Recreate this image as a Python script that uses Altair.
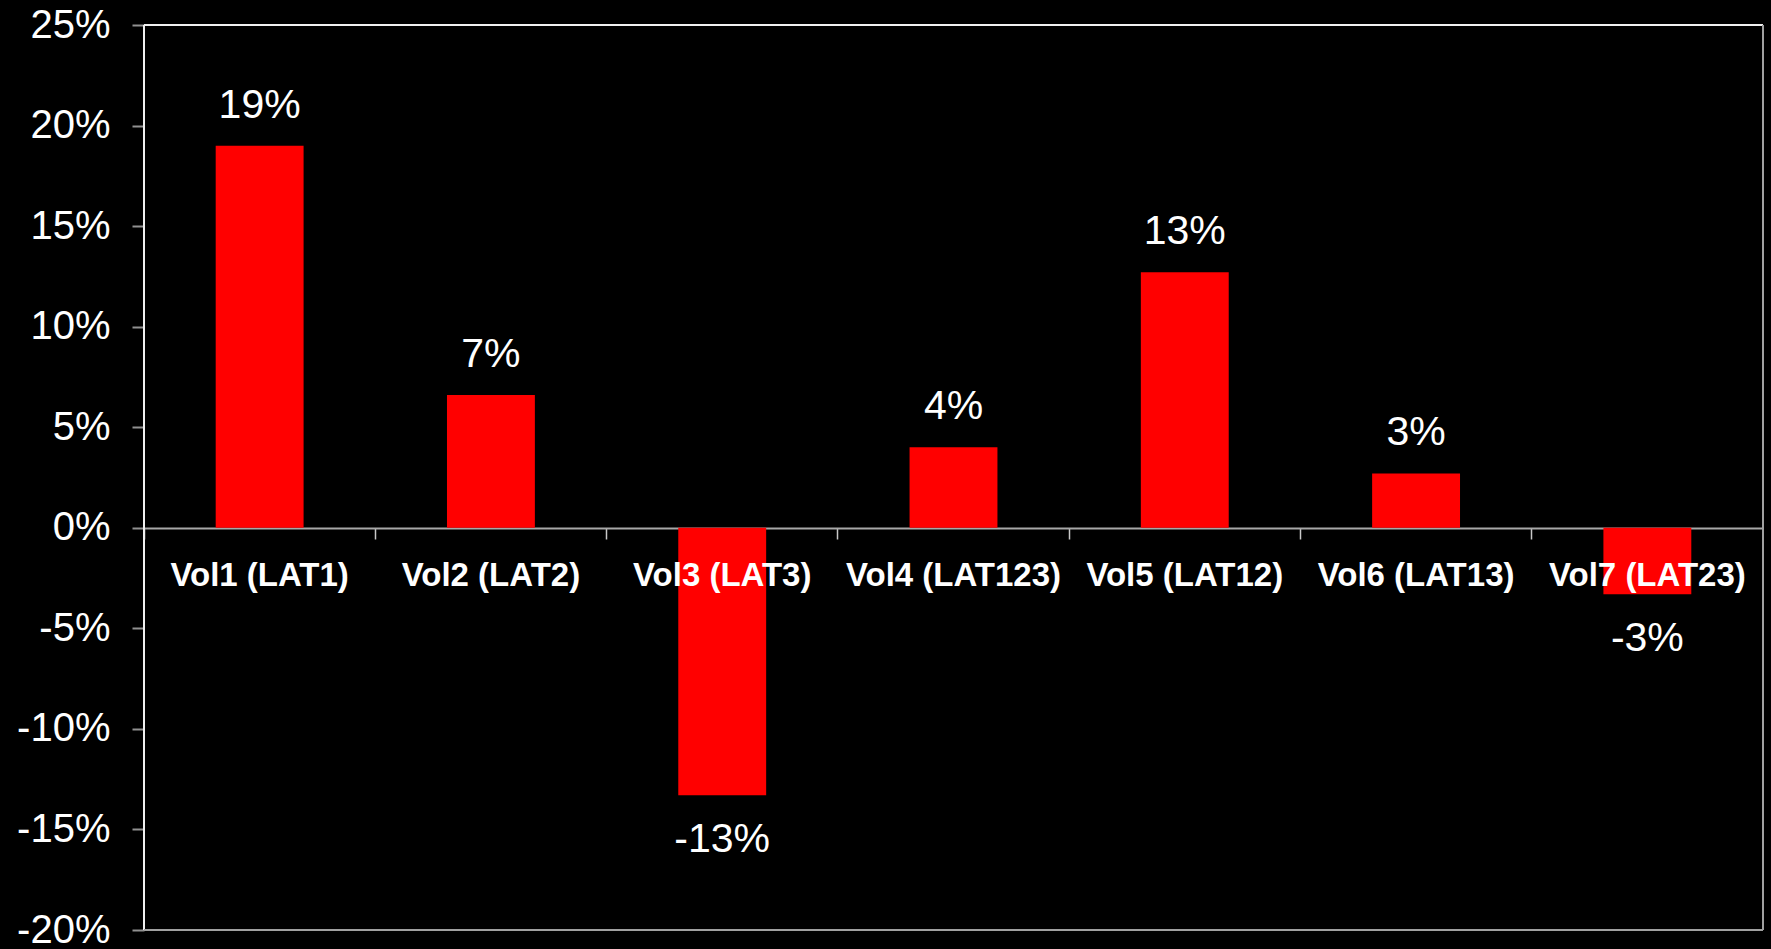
import altair as alt
import pandas as pd

# Volume change by latency group
categories = ["Vol1 (LAT1)", "Vol2 (LAT2)", "Vol3 (LAT3)", "Vol4 (LAT123)",
              "Vol5 (LAT12)", "Vol6 (LAT13)", "Vol7 (LAT23)"]
changes = [0.190, 0.066, -0.133, 0.040, 0.127, 0.027, -0.033]
y_ticks = [-0.20, -0.15, -0.10, -0.05, 0.0, 0.05, 0.10, 0.15, 0.20, 0.25]

df = pd.DataFrame({"cat": categories, "change": changes})

W, H = 1619, 905
FONT = "Liberation Sans"
MINUS_FIX = "replace(datum.label, '\u2212', '-')"

x_scale = alt.Scale(paddingInner=0, paddingOuter=0)
y_scale = alt.Scale(domain=[-0.20, 0.25], nice=False, zero=False)

bars = alt.Chart(df).mark_bar(color="#ff0000", width=alt.RelativeBandSize(0.38)).encode(
    x=alt.X("cat:N", sort=categories, scale=x_scale,
            axis=alt.Axis(title=None, labels=False, ticks=True, tickSize=11,
                          tickColor="#c8c8c8", tickWidth=1.5, bandPosition=0,
                          domain=True, domainColor="#a8a8a8", domainWidth=2,
                          offset=-402, grid=False)),
    y=alt.Y("change:Q", scale=y_scale,
            axis=alt.Axis(title=None, values=y_ticks, format=".0%",
                          labelExpr=MINUS_FIX,
                          labelFont=FONT, labelFontSize=40, labelColor="white",
                          labelPadding=22, tickSize=12, tickColor="#909090",
                          tickWidth=2, domain=False, grid=False)),
)

base_text = alt.Chart(df).transform_calculate(
    label="replace(format(datum.change, '.0%'), '\u2212', '-')"
)

pos_text = base_text.transform_filter("datum.change >= 0").mark_text(
    font=FONT, fontSize=41, color="white", baseline="middle", dy=-40
).encode(
    x=alt.X("cat:N", sort=categories),
    y=alt.Y("change:Q", scale=y_scale),
    text="label:N",
)

neg_text = base_text.transform_filter("datum.change < 0").mark_text(
    font=FONT, fontSize=41, color="white", baseline="middle", dy=45
).encode(
    x=alt.X("cat:N", sort=categories),
    y=alt.Y("change:Q", scale=y_scale),
    text="label:N",
)

# category names sit just under the zero line
cat_text = alt.Chart(df).mark_text(
    font=FONT, fontSize=33, fontWeight="bold", color="white",
    baseline="middle", dy=48
).encode(
    x=alt.X("cat:N", sort=categories),
    y=alt.datum(0),
    text="cat:N",
)

# plot frame: light top/left edges, grey right/bottom edges
frame_top = alt.Chart(df).mark_rule(color="#f0f0f0", strokeWidth=2).encode(
    x=alt.value(0), x2=alt.value(W), y=alt.value(0))
frame_left = alt.Chart(df).mark_rule(color="#f0f0f0", strokeWidth=2).encode(
    x=alt.value(0), y=alt.value(0), y2=alt.value(H))
frame_right = alt.Chart(df).mark_rule(color="#a0a0a0", strokeWidth=2).encode(
    x=alt.value(W), y=alt.value(0), y2=alt.value(H))
frame_bottom = alt.Chart(df).mark_rule(color="#a0a0a0", strokeWidth=2).encode(
    x=alt.value(0), x2=alt.value(W), y=alt.value(H))

chart = alt.layer(
    bars, cat_text, pos_text, neg_text,
    frame_top, frame_left, frame_right, frame_bottom
).properties(
    width=W, height=H,
    background="black",
    autosize=alt.AutoSizeParams(type="none"),
    padding={"left": 144, "top": 25, "right": 8, "bottom": 19},
).configure_view(stroke=None)

chart.save("out.html", embed_options={"renderer": "svg", "actions": False})
